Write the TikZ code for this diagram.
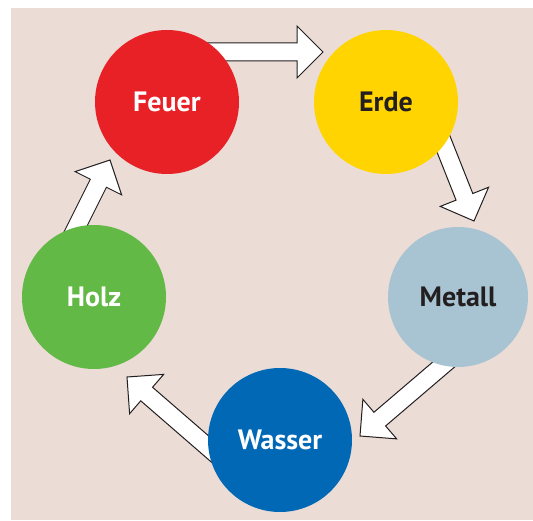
\documentclass[tikz,border=0pt]{standalone}
\usepackage{fontspec}
\setmainfont{PT Sans}
\usetikzlibrary{calc}
\pgfdeclarelayer{back}
\pgfdeclarelayer{mid}
\pgfsetlayers{back,mid,main}
\definecolor{bgpink}{HTML}{EBDCD6}
\definecolor{cred}{HTML}{E82127}
\definecolor{cyellow}{HTML}{FFD400}
\definecolor{clblue}{HTML}{A8C4D2}
\definecolor{cblue}{HTML}{0068B4}
\definecolor{cgreen}{HTML}{62B946}
\definecolor{dark}{HTML}{231F20}
\tikzset{
  elem/.style={circle, minimum size=144pt, inner sep=0pt, draw=none,
    font=\fontsize{28}{32}\selectfont\bfseries},
  blockarrow/.style={fill=white, draw=dark, line width=1pt, line join=miter}
}
\newcommand\blkarrow[2]{%
  \path ($(#2)!26pt!(#1)$) coordinate (bb);
  \draw[blockarrow]
    ($(#1)!9pt!90:(#2)$) -- ($(bb)!9pt!90:(#2)$) -- ($(bb)!26pt!90:(#2)$)
    -- (#2) -- ($(bb)!26pt!-90:(#2)$) -- ($(bb)!9pt!-90:(#2)$)
    -- ($(#1)!9pt!-90:(#2)$) -- cycle;
}
\begin{document}
\begin{tikzpicture}[x=1pt,y=-1pt]
\useasboundingbox (0,0) rectangle (533,521);
\begin{pgfonlayer}{back}
  \fill[bgpink] (11,8) rectangle (533,520);
\end{pgfonlayer}
\node[elem, fill=cred, text=white] (feuer) at (167,102) {Feuer};
\node[elem, fill=cyellow, text=dark] (erde) at (386,102) {Erde};
\node[elem, fill=clblue, text=dark, minimum size=140pt] (metall) at (458,297) {Metall};
\node[elem, fill=cblue, text=white] (wasser) at (280,440) {Wasser};
\node[elem, fill=cgreen, text=white] (holz) at (94,297) {Holz};
\coordinate (s1) at (170,52);  \coordinate (t1) at (323,52);
\coordinate (s2) at (430,110); \coordinate (t2) at (474,221);
\coordinate (s3) at (470,342); \coordinate (t3) at (360,436);
\coordinate (s4) at (240,475); \coordinate (t4) at (127,377);
\coordinate (s5) at (52,276);  \coordinate (t5) at (110,160);
\begin{pgfonlayer}{mid}
  \blkarrow{s1}{t1}
  \blkarrow{s2}{t2}
  \blkarrow{s3}{t3}
  \blkarrow{s4}{t4}
  \blkarrow{s5}{t5}
\end{pgfonlayer}
\end{tikzpicture}
\end{document}
